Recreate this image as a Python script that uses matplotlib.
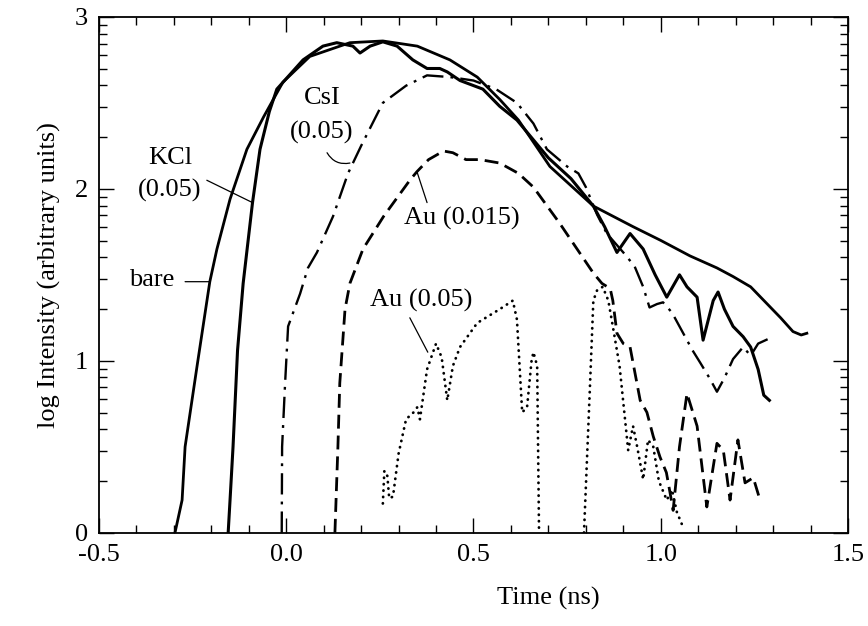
"""Log intensity vs time for bare and coated samples."""

import numpy as np
import matplotlib

matplotlib.use("Agg")
import matplotlib.pyplot as plt  # noqa: E402

plt.rcParams["font.family"] = ["Liberation Serif", "DejaVu Serif"]

# --- data ------------------------------------------------------------------
bare_t = [-0.297, -0.278, -0.27, -0.238, -0.204, -0.185, -0.15, -0.105, -0.06,
          -0.009, 0.063, 0.17, 0.258, 0.35, 0.437, 0.51, 0.57, 0.62, 0.704,
          0.82, 0.926, 1.0, 1.078, 1.15, 1.193, 1.24, 1.28, 1.32, 1.353,
          1.375, 1.39]
bare_y = [0.0, 0.19, 0.5, 0.97, 1.46, 1.65, 1.94, 2.23, 2.42,
          2.62, 2.77, 2.85, 2.86, 2.83, 2.75, 2.65, 2.52, 2.40, 2.13,
          1.90, 1.78, 1.70, 1.61, 1.54, 1.49, 1.43, 1.34, 1.25, 1.17,
          1.15, 1.16]

kcl_t = [-0.155, -0.15, -0.142, -0.13, -0.115, -0.09, -0.07, -0.045, -0.025,
         0.045, 0.098, 0.135, 0.178, 0.197, 0.224, 0.258, 0.296, 0.338,
         0.376, 0.41, 0.43, 0.464, 0.525, 0.57, 0.616, 0.70, 0.76, 0.82,
         0.85, 0.883, 0.918, 0.953, 0.985, 1.016, 1.05, 1.07, 1.097, 1.113,
         1.14, 1.153, 1.17, 1.193, 1.22, 1.24, 1.26, 1.275, 1.29]
kcl_y = [0.0, 0.19, 0.5, 1.06, 1.45, 1.92, 2.23, 2.45, 2.58,
         2.75, 2.83, 2.85, 2.83, 2.79, 2.83, 2.855, 2.83, 2.75,
         2.70, 2.70, 2.68, 2.63, 2.58, 2.48, 2.40, 2.18, 2.06, 1.90,
         1.78, 1.63, 1.74, 1.65, 1.50, 1.37, 1.50, 1.43, 1.37, 1.12,
         1.35, 1.40, 1.30, 1.20, 1.14, 1.08, 0.95, 0.80, 0.77]

csi_t = [-0.012, -0.011, -0.003, 0.005, 0.037, 0.058, 0.082, 0.125, 0.165,
         0.20, 0.258, 0.32, 0.376, 0.437, 0.50, 0.56, 0.616, 0.66, 0.696,
         0.75, 0.78, 0.80, 0.83, 0.856, 0.9, 0.93, 0.953, 0.97, 0.99, 1.006,
         1.03, 1.05, 1.07, 1.085, 1.105, 1.13, 1.15, 1.17, 1.193, 1.22,
         1.24, 1.26, 1.29]
csi_y = [0.0, 0.5, 0.87, 1.2, 1.39, 1.54, 1.63, 1.84, 2.09,
         2.25, 2.5, 2.60, 2.66, 2.65, 2.63, 2.58, 2.50, 2.38, 2.23,
         2.13, 2.09, 2.01, 1.85, 1.74, 1.63, 1.55, 1.43, 1.31, 1.33, 1.34,
         1.28, 1.20, 1.12, 1.06, 0.99, 0.90, 0.82, 0.90, 1.01, 1.08,
         1.03, 1.10, 1.13]

au15_t = [0.13, 0.138, 0.143, 0.157, 0.17, 0.205, 0.26, 0.33, 0.349, 0.38,
          0.42, 0.445, 0.48, 0.517, 0.57, 0.62, 0.66, 0.73, 0.82, 0.843,
          0.865, 0.872, 0.883, 0.9, 0.918, 0.945, 0.963, 0.98, 0.998, 1.015,
          1.025, 1.033, 1.05, 1.07, 1.097, 1.123, 1.15, 1.167, 1.185, 1.206,
          1.225, 1.247, 1.265]
au15_y = [0.0, 0.5, 0.87, 1.30, 1.45, 1.65, 1.84, 2.05, 2.10, 2.17,
          2.22, 2.21, 2.17, 2.17, 2.15, 2.09, 2.01, 1.80, 1.51, 1.45,
          1.42, 1.35, 1.16, 1.10, 1.08, 0.77, 0.70, 0.56, 0.44, 0.35,
          0.23, 0.13, 0.50, 0.81, 0.62, 0.15, 0.52, 0.48, 0.19, 0.54,
          0.29, 0.32, 0.19]

au05_t = [0.258, 0.262, 0.27, 0.275, 0.285, 0.30, 0.32, 0.34, 0.35, 0.357,
          0.376, 0.40, 0.415, 0.43, 0.445, 0.464, 0.51, 0.57, 0.605, 0.616,
          0.63, 0.643, 0.655, 0.66, 0.67, 0.675, np.nan,
          0.795, 0.81, 0.82, 0.83, 0.845, 0.86, 0.872, 0.89, 0.913, 0.926,
          0.937, 0.953, 0.966, 0.98, 0.995, 1.016, 1.03, 1.043, 1.06]
au05_y = [0.17, 0.36, 0.33, 0.20, 0.21, 0.46, 0.66, 0.70, 0.73, 0.66,
          0.95, 1.10, 1.02, 0.77, 0.97, 1.08, 1.22, 1.30, 1.35, 1.24,
          0.70, 0.73, 1.00, 1.05, 0.97, 0.0, np.nan,
          0.0, 0.80, 1.35, 1.41, 1.43, 1.35, 1.20, 0.97, 0.48, 0.62,
          0.50, 0.31, 0.54, 0.50, 0.30, 0.19, 0.25, 0.12, 0.03]

fig = plt.figure(figsize=(8.68, 6.26), dpi=100)
ax = fig.add_axes([0.114, 0.149, 0.863, 0.824])

ax.plot(bare_t, bare_y, color="black", lw=2.0)
ax.plot(kcl_t, kcl_y, color="black", lw=2.2)
ax.plot(csi_t, csi_y, color="black", lw=1.7, dashes=(9, 3, 1.2, 3))
ax.plot(au15_t, au15_y, color="black", lw=2.0, dashes=(5, 2.5))
ax.plot(au05_t, au05_y, color="black", lw=2.0, dashes=(0.1, 2.2),
        dash_capstyle="round")

# labels with leader lines
fs = 19
txt = dict(fontsize=fs, ha="center", va="center")
ln = dict(arrowstyle="-", color="black", lw=0.9, shrinkA=0, shrinkB=0)
ax.text(-0.31, 2.18, "KCl", **txt)
ax.text(-0.31, 1.99, "(0.05)", **txt)
ax.annotate("", xy=(-0.09, 1.92), xytext=(-0.212, 2.05), arrowprops=ln)
ax.text(-0.36, 1.47, "bare", **txt)
ax.annotate("", xy=(-0.204, 1.46), xytext=(-0.27, 1.46), arrowprops=ln)
ax.text(0.095, 2.53, "CsI", **txt)
ax.text(0.095, 2.33, "(0.05)", **txt)
ax.annotate("", xy=(0.17, 2.15), xytext=(0.109, 2.21),
            arrowprops=dict(ln, connectionstyle="arc3,rad=0.35"))
ax.text(0.47, 1.83, "Au (0.015)", **txt)
ax.annotate("", xy=(0.349, 2.10), xytext=(0.376, 1.92), arrowprops=ln)
ax.text(0.36, 1.35, "Au (0.05)", **txt)
ax.annotate("", xy=(0.378, 1.05), xytext=(0.33, 1.25), arrowprops=ln)

ax.set_xlim(-0.5, 1.5)
ax.set_ylim(0, 3)
ax.set_xticks([-0.5, 0.0, 0.5, 1.0, 1.5])
ax.set_xticklabels(["-0.5", "0.0", "0.5", "1.0", "1.5"])
ax.set_xticks(np.arange(-0.5, 1.51, 0.1), minor=True)
ax.set_yticks([0, 1, 2, 3])
ax.set_yticklabels(["0", "1", "2", "3"])
ax.set_yticks([d + np.log10(k) for d in range(3) for k in range(2, 10)],
              minor=True)
ax.tick_params(which="both", direction="in", top=True, right=True,
               labelsize=fs, width=1.0)
ax.tick_params(which="major", length=11, pad=8)
ax.tick_params(which="minor", length=6)
for s in ax.spines.values():
    s.set_linewidth(1.3)

ax.set_xlabel("Time (ns)", fontsize=fs)
ax.xaxis.set_label_coords(0.6, -0.105)
ax.set_ylabel("log Intensity (arbitrary units)", fontsize=fs, labelpad=10)

fig.savefig("out.png", dpi=100)
